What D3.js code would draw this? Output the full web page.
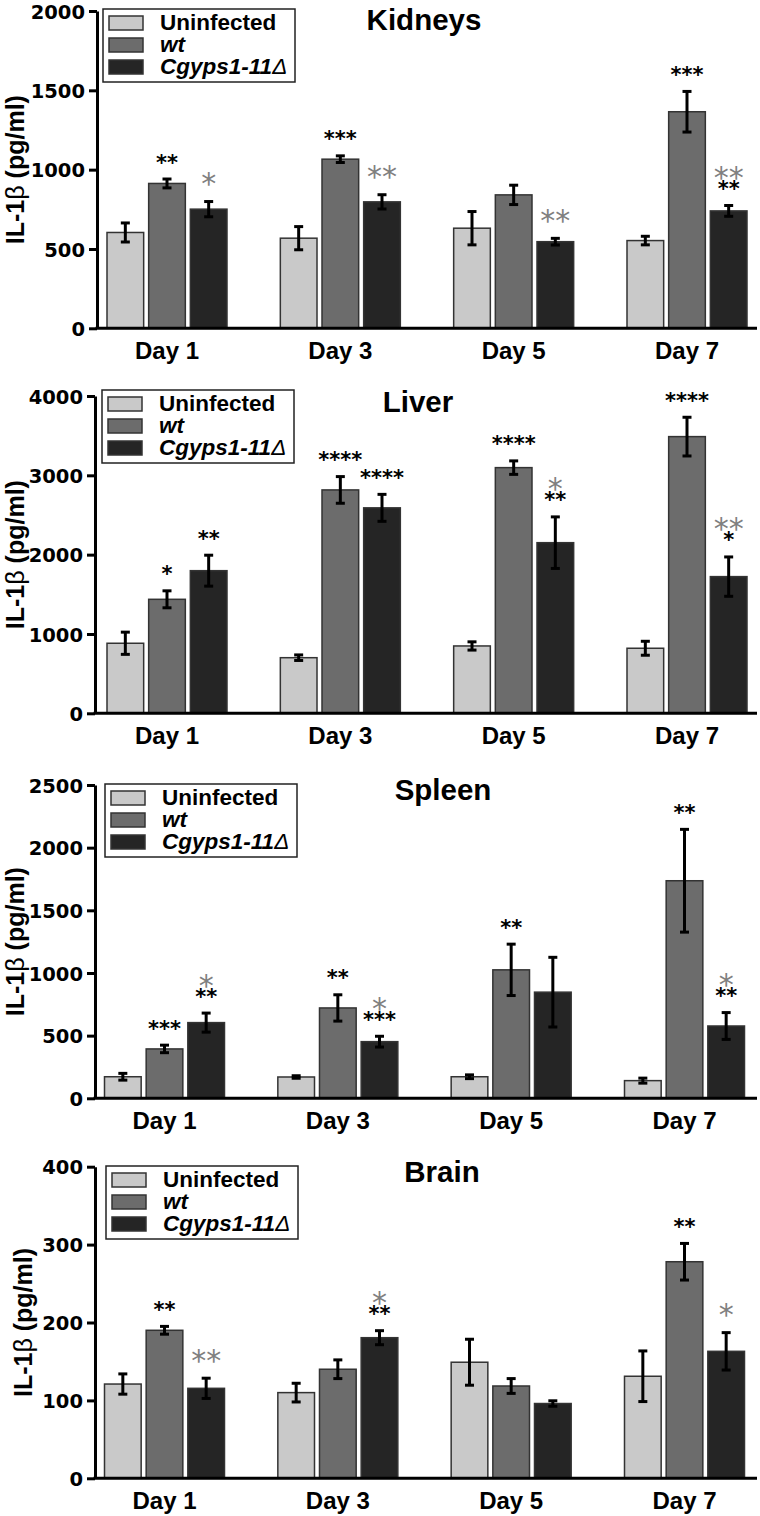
<!DOCTYPE html>
<html><head><meta charset="utf-8">
<script src="https://cdn.jsdelivr.net/npm/d3@7"></script>
<style>body{margin:0;background:#fff}</style>
</head><body><svg id="c" width="760" height="1516"></svg>
<script>
const days = ["Day 1", "Day 3", "Day 5", "Day 7"];
const series = ["Uninfected", "wt", "Cgyps1-11Δ"];
const colors = ["#c9c9c9", "#6c6c6c", "#252525"];

// Kidneys
const kidneysUninf = [604, 568, 631, 553];
const kidneysUninfErr = [60, 73, 105, 27];
const kidneysWt = [913, 1066, 841, 1365];
const kidneysWtErr = [28, 21, 61, 128];
const kidneysCg = [751, 797, 546, 740];
const kidneysCgErr = [48, 45, 21, 34];
const kidneysBlack = [["", "**", ""], ["", "***", ""], ["", "", ""], ["", "***", "**"]];
const kidneysGrey = [["", "", "*"], ["", "", "**"], ["", "", "**"], ["", "", "**"]];
const kidneysTicks = [0, 500, 1000, 1500, 2000];

// Liver
const liverUninf = [883, 701, 849, 820];
const liverUninfErr = [140, 35, 52, 88];
const liverWt = [1437, 2816, 3097, 3488];
const liverWtErr = [107, 168, 85, 244];
const liverCg = [1798, 2590, 2151, 1723];
const liverCgErr = [195, 170, 325, 248];
const liverBlack = [["", "*", "**"], ["", "****", "****"], ["", "****", "**"], ["", "****", "*"]];
const liverGrey = [["", "", ""], ["", "", ""], ["", "", "*"], ["", "", "**"]];
const liverTicks = [0, 1000, 2000, 3000, 4000];

// Spleen
const spleenUninf = [172, 170, 172, 141];
const spleenUninfErr = [27, 10, 15, 20];
const spleenWt = [394, 721, 1025, 1736];
const spleenWtErr = [30, 105, 205, 410];
const spleenCg = [604, 452, 847, 577];
const spleenCgErr = [76, 43, 278, 107];
const spleenBlack = [["", "***", "**"], ["", "**", "***"], ["", "**", ""], ["", "**", "**"]];
const spleenGrey = [["", "", "*"], ["", "", "*"], ["", "", ""], ["", "", "*"]];
const spleenTicks = [0, 500, 1000, 1500, 2000, 2500];

// Brain
const brainUninf = [121, 110, 149, 131];
const brainUninfErr = [13, 12, 29.5, 32.5];
const brainWt = [190, 140, 118.5, 278];
const brainWtErr = [5, 12, 9.5, 23.5];
const brainCg = [115.5, 180.5, 96, 163];
const brainCgErr = [13, 9, 3.5, 24];
const brainBlack = [["", "**", ""], ["", "", "**"], ["", "", ""], ["", "**", ""]];
const brainGrey = [["", "", "**"], ["", "", "*"], ["", "", ""], ["", "", "*"]];
const brainTicks = [0, 100, 200, 300, 400];

const panels = [
  {title: "Kidneys", means: [kidneysUninf, kidneysWt, kidneysCg], errs: [kidneysUninfErr, kidneysWtErr, kidneysCgErr],
   black: kidneysBlack, grey: kidneysGrey, ticks: kidneysTicks,
   top: 11, bottom: 328.3, axisX: 97, barStart: 107, tx: 424, ty: 30, lx: 103, ly: 9, ylx: 24},
  {title: "Liver", means: [liverUninf, liverWt, liverCg], errs: [liverUninfErr, liverWtErr, liverCgErr],
   black: liverBlack, grey: liverGrey, ticks: liverTicks,
   top: 396, bottom: 713.3, axisX: 95, barStart: 107, tx: 418, ty: 411.5, lx: 102, ly: 390, ylx: 24},
  {title: "Spleen", means: [spleenUninf, spleenWt, spleenCg], errs: [spleenUninfErr, spleenWtErr, spleenCgErr],
   black: spleenBlack, grey: spleenGrey, ticks: spleenTicks,
   top: 785, bottom: 1098.3, axisX: 95, barStart: 104.5, tx: 443, ty: 800, lx: 105, ly: 784, ylx: 24},
  {title: "Brain", means: [brainUninf, brainWt, brainCg], errs: [brainUninfErr, brainWtErr, brainCgErr],
   black: brainBlack, grey: brainGrey, ticks: brainTicks,
   top: 1166.7, bottom: 1478.3, axisX: 95, barStart: 104.5, tx: 442, ty: 1181.5, lx: 106, ly: 1166, ylx: 32}
];

const svg = d3.select("#c");
const ARIAL = "'Liberation Sans', Arial, Helvetica, sans-serif";
const DEJA = "'DejaVu Sans', sans-serif";

panels.forEach(p => {
  const g = svg.append("g");
  const yMax = p.ticks[p.ticks.length - 1];
  const y = d3.scaleLinear().domain([0, yMax]).range([p.bottom, p.top]);
  const x0 = d3.scaleBand().domain(days).range([p.barStart, p.barStart + 640]).paddingInner(0.3077);
  const x1 = d3.scaleBand().domain(series).range([0, x0.bandwidth()]).paddingInner(0.12);

  // bars
  days.forEach((d, di) => {
    series.forEach((s, si) => {
      const m = p.means[si][di];
      g.append("rect")
        .attr("x", x0(d) + x1(s))
        .attr("y", y(m))
        .attr("width", x1.bandwidth())
        .attr("height", y(0) - y(m))
        .attr("fill", colors[si])
        .attr("stroke", "#333")
        .attr("stroke-width", 1.5);
    });
  });

  // error bars
  days.forEach((d, di) => {
    series.forEach((s, si) => {
      const m = p.means[si][di], e = p.errs[si][di];
      const cx = x0(d) + x1(s) + x1.bandwidth() / 2;
      const eb = g.append("g").attr("stroke", "#000").attr("stroke-width", 3);
      eb.append("line").attr("x1", cx).attr("x2", cx).attr("y1", y(m - e)).attr("y2", y(m + e));
      eb.append("line").attr("x1", cx - 4.5).attr("x2", cx + 4.5).attr("y1", y(m - e)).attr("y2", y(m - e));
      eb.append("line").attr("x1", cx - 4.5).attr("x2", cx + 4.5).attr("y1", y(m + e)).attr("y2", y(m + e));
    });
  });

  // significance stars
  days.forEach((d, di) => {
    series.forEach((s, si) => {
      const m = p.means[si][di], e = p.errs[si][di];
      const cx = x0(d) + x1(s) + x1.bandwidth() / 2;
      const b = p.black[di][si], gr = p.grey[di][si];
      let gc;
      if (b) {
        const bc = y(m + e) - 21;
        g.append("text").attr("x", cx).attr("y", bc + 11.5)
          .attr("text-anchor", "middle").attr("font-family", DEJA).attr("font-weight", "bold")
          .attr("font-size", 21).attr("fill", "#000").text(b);
        gc = bc - 13;
      } else {
        gc = y(m + e) - 24;
      }
      if (gr) {
        g.append("text").attr("x", cx).attr("y", gc + 16.5)
          .attr("text-anchor", "middle").attr("font-family", DEJA).attr("font-weight", "normal")
          .attr("font-size", 30).attr("fill", "#808080").text(gr);
      }
    });
  });

  // y axis
  const ya = g.append("g").attr("transform", `translate(${p.axisX},0)`)
    .call(d3.axisLeft(y).tickValues(p.ticks).tickSize(8).tickSizeOuter(0).tickPadding(4).tickFormat(d3.format("d")));
  ya.select(".domain").attr("stroke", "#000").attr("stroke-width", 3);
  ya.selectAll(".tick line").attr("stroke", "#000").attr("stroke-width", 3);
  ya.selectAll(".tick text").attr("font-family", DEJA).attr("font-weight", "bold")
    .attr("font-size", 19.5).attr("fill", "#000").attr("dy", "0.36em");

  // x axis line
  g.append("line").attr("x1", p.axisX - 1.5).attr("x2", 757).attr("y1", y(0)).attr("y2", y(0))
    .attr("stroke", "#000").attr("stroke-width", 3);

  // x labels
  days.forEach(d => {
    g.append("text").attr("x", x0(d) + x0.bandwidth() / 2).attr("y", y(0) + 31)
      .attr("text-anchor", "middle").attr("font-family", ARIAL).attr("font-weight", "bold")
      .attr("font-size", 24).attr("fill", "#000").text(d);
  });

  // y label
  const cy = (p.top + p.bottom) / 2;
  const yl = g.append("text").attr("transform", `translate(${p.ylx},${cy}) rotate(-90)`)
    .attr("text-anchor", "middle").attr("font-family", ARIAL).attr("font-weight", "bold")
    .attr("font-size", 25).attr("fill", "#000");
  yl.append("tspan").text("IL-1");
  yl.append("tspan").attr("font-weight", "normal").text("β");
  yl.append("tspan").text(" (pg/ml)");

  // title
  g.append("text").attr("x", p.tx).attr("y", p.ty).attr("text-anchor", "middle")
    .attr("font-family", ARIAL).attr("font-weight", "bold").attr("font-size", 29.5)
    .attr("fill", "#000").text(p.title);

  // legend
  const lg = g.append("g").attr("transform", `translate(${p.lx},${p.ly})`);
  lg.append("rect").attr("x", 0).attr("y", 0).attr("width", 192).attr("height", 73)
    .attr("fill", "#fff").attr("stroke", "#222").attr("stroke-width", 1.5);
  series.forEach((s, i) => {
    lg.append("rect").attr("x", 6).attr("y", 7 + i * 22).attr("width", 34).attr("height", 14)
      .attr("fill", colors[i]).attr("stroke", "#333").attr("stroke-width", 1.5);
    const t = lg.append("text").attr("x", 57).attr("y", 21 + i * 22)
      .attr("font-family", ARIAL).attr("font-weight", "bold").attr("font-size", 22.5).attr("fill", "#000");
    if (i === 0) t.text(s);
    else if (i === 1) t.attr("font-style", "italic").text(s);
    else {
      t.attr("font-style", "italic");
      t.append("tspan").text(s.slice(0, -1));
      t.append("tspan").attr("font-weight", "normal").text(s.slice(-1));
    }
  });
});
</script>
</body></html>
